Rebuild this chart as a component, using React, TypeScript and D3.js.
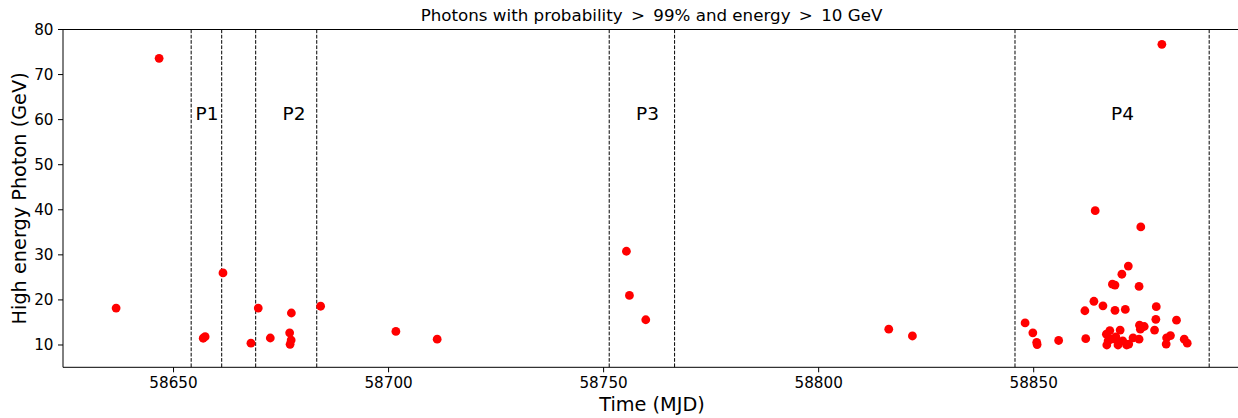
import React from "react";
import * as d3 from "d3";

const mjd: number[] = [
  58636.65, 58646.65, 58656.9, 58657.35, 58661.5, 58668.0, 58669.7, 58672.5,
  58677.4, 58677.0, 58677.35, 58677.1, 58684.2, 58701.7, 58711.3,
  58755.3, 58756.0, 58759.8, 58816.3, 58821.8,
  58848.0, 58849.8, 58850.7, 58850.8, 58855.8, 58861.9, 58862.1, 58864.0,
  58864.3, 58866.1, 58866.9, 58867.0, 58867.3, 58867.7, 58868.0, 58868.3,
  58868.9, 58868.9, 58868.9, 58869.1, 58869.6, 58870.1, 58870.5, 58870.7,
  58871.3, 58871.6, 58872.0, 58872.1, 58873.1, 58874.5, 58874.5, 58874.6,
  58874.8, 58874.9, 58875.7, 58878.1, 58878.4, 58878.5, 58879.8, 58880.8,
  58880.9, 58881.8, 58883.2, 58885.0, 58885.7,
];
const energy: number[] = [
  18.2, 73.6, 11.5, 11.85, 26.0, 10.4, 18.2, 11.55,
  17.1, 12.7, 11.1, 10.15, 18.6, 13.0, 11.3,
  30.8, 21.0, 15.6, 13.5, 12.0,
  14.9, 12.7, 10.6, 10.1, 11.0, 17.6, 11.4, 19.7,
  39.8, 18.7, 12.4, 10.0, 10.9, 13.2, 11.3, 23.5,
  23.3, 17.7, 11.3, 11.8, 10.0, 13.3, 25.7, 10.9,
  17.9, 10.0, 27.5, 10.2, 11.6, 23.0, 11.3, 14.4,
  13.5, 36.2, 14.1, 13.3, 15.7, 18.5, 76.7, 10.2,
  11.6, 12.1, 15.5, 11.3, 10.4,
];
const periodBounds: number[] = [
  58654.1, 58661.2, 58669.1, 58683.3, 58751.3, 58766.5, 58845.65, 58890.8,
];
const periodNames: string[] = ["P1", "P2", "P3", "P4"];
const periodLabelMjd: number[] = [58657.8, 58678.0, 58760.2, 58870.65];
const periodLabelGeV = 60;
const xTicks: number[] = [58650, 58700, 58750, 58800, 58850];
const yTicks: number[] = [10, 20, 30, 40, 50, 60, 70, 80];
const titleParts: string[] = ["Photons with probability", ">", "99% and energy", ">", "10 GeV"];

const W = 1238;
const H = 418;
const left = 63;
const right = 1241;
const top = 29.5;
const bottom = 367.3;
const font = "DejaVu Sans, sans-serif";

export default function App() {
  const x = d3.scaleLinear().domain([58624.3, 58898.2]).range([left, right]);
  const y = d3.scaleLinear().domain([5.05, 80]).range([bottom, top]);
  const sep = "\u2002";

  return (
    <svg
      width={W}
      height={H}
      style={{ position: "absolute", left: 0, top: 0, background: "#fff" }}
      fontFamily={font}
    >
      <rect x={0} y={0} width={W} height={H} fill="#fff" />
      {periodBounds.map((b, i) => (
        <line
          key={"v" + i}
          x1={x(b)}
          x2={x(b)}
          y1={top}
          y2={bottom}
          stroke="#000"
          strokeWidth={1}
          strokeDasharray="3.7,1.6"
        />
      ))}
      {periodNames.map((n, i) => (
        <text
          key={n}
          x={x(periodLabelMjd[i])}
          y={y(periodLabelGeV)}
          fontSize={18.5}
          textAnchor="middle"
          fill="#000"
        >
          {n}
        </text>
      ))}
      {mjd.map((m, i) => (
        <circle key={"p" + i} cx={x(m)} cy={y(energy[i])} r={4.4} fill="#ff0000" />
      ))}
      <line x1={left} x2={left} y1={top} y2={bottom} stroke="#000" strokeWidth={1} />
      <line x1={left} x2={right} y1={bottom} y2={bottom} stroke="#000" strokeWidth={1} />
      <line x1={left} x2={right} y1={top} y2={top} stroke="#000" strokeWidth={1} />
      <line x1={right} x2={right} y1={top} y2={bottom} stroke="#000" strokeWidth={1} />
      {xTicks.map((t) => (
        <g key={"xt" + t}>
          <line x1={x(t)} x2={x(t)} y1={bottom} y2={bottom + 5} stroke="#000" strokeWidth={1} />
          <text x={x(t)} y={388} fontSize={15.2} textAnchor="middle" fill="#000">
            {t}
          </text>
        </g>
      ))}
      {yTicks.map((t) => (
        <g key={"yt" + t}>
          <line x1={left - 5} x2={left} y1={y(t)} y2={y(t)} stroke="#000" strokeWidth={1} />
          <text x={left - 9.5} y={y(t)} dy="0.36em" fontSize={15.2} textAnchor="end" fill="#000">
            {t}
          </text>
        </g>
      ))}
      <text
        x={(418 + 885) / 2}
        y={20.5}
        fontSize={16.7}
        textAnchor="middle"
        fill="#000"
        style={{ whiteSpace: "pre" }}
      >
        {titleParts.join(sep)}
      </text>
      <text x={(left + right) / 2} y={411} fontSize={19.3} textAnchor="middle" fill="#000">
        Time (MJD)
      </text>
      <text
        transform={`translate(25.5,${(top + bottom) / 2}) rotate(-90)`}
        fontSize={19.3}
        textAnchor="middle"
        fill="#000"
      >
        High energy Photon (GeV)
      </text>
    </svg>
  );
}
